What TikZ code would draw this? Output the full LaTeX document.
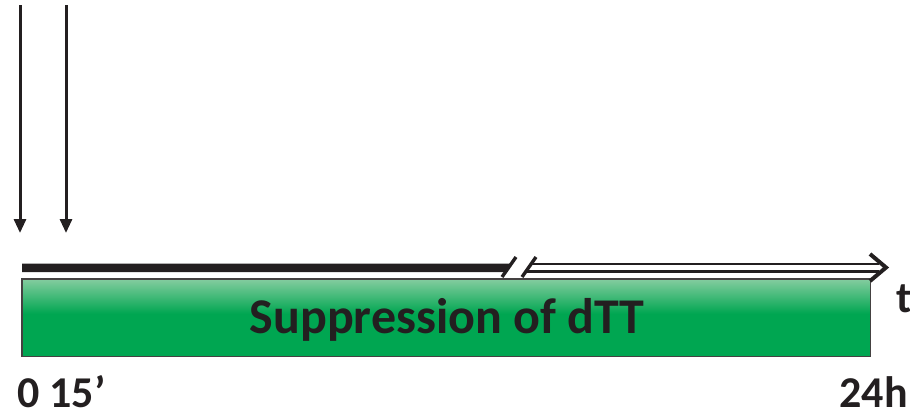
\documentclass[tikz,border=0pt]{standalone}
\usepackage{fontspec}
\setmainfont{Carlito}
\usetikzlibrary{arrows.meta}
\definecolor{ink}{HTML}{231F20}
\definecolor{barGreen}{HTML}{00A651}
\definecolor{barLight}{HTML}{82CC9E}
\tikzset{
  pulse/.style={draw=ink, line width=3bp, -{Triangle[width=12bp,length=14bp]}},
  slash/.style={draw=ink, line width=3.4bp},
  rail/.style={draw=ink, line width=2.6bp},
  label/.style={font=\fontsize{44bp}{52bp}\selectfont\bfseries, text=ink, inner sep=0pt},
  title/.style={font=\fontsize{50bp}{58bp}\selectfont\bfseries, text=ink, inner sep=0pt},
}
\begin{document}
\begin{tikzpicture}[x=1bp, y=-1bp]
  \useasboundingbox (0,0) rectangle (910,415);

  % stimulus pulses at 0 and 15'
  \coordinate (p1top) at (20,5);
  \coordinate (p1end) at (20,233);
  \coordinate (p2top) at (66,5);
  \coordinate (p2end) at (66,233);
  \draw[pulse] (p1top) -- (p1end);
  \draw[pulse] (p2top) -- (p2end);

  % suppression period bar with gradient top
  \node[draw=none, fill=barGreen, minimum width=848bp, minimum height=77bp,
        inner sep=0pt, anchor=north west] (bar) at (22,279) {};
  \shade[top color=barLight, bottom color=barGreen]
        ([yshift=-0.5bp]bar.north west) rectangle ([yshift=4bp]bar.east);
  \draw[draw=ink!85, line width=1.6bp] (bar.north west) rectangle (bar.south east);
  \node[title, anchor=base] (supp) at (447,333) {Suppression of dTT};

  % time axis: solid part, break, hollow part
  \coordinate (s1a) at (516,257);
  \coordinate (s1b) at (502,277);
  \coordinate (s2a) at (536,257);
  \coordinate (s2b) at (522,277);
  \coordinate (axstart) at (22,263.5);
  \fill[ink] (axstart) -- (511.4,263.5) -- (505.5,272) -- (22,272) -- cycle;
  \draw[slash] (s1a) -- (s1b);
  \draw[slash] (s2a) -- (s2b);

  \coordinate (tip) at (886,267.5);
  \draw[rail] (531.4,263.8) -- (879,263.8);
  \draw[rail] (525.5,271.4) -- (879,271.4);
  \draw[draw=ink, line width=4bp, miter limit=10, line join=miter]
       (870,254) -- (tip) -- (870,281);

  % labels
  \node[label, anchor=base west] (tlab) at (896,312) {t};
  \node[label, anchor=base west] (start) at (17,407) {0 15’};
  \node[label, anchor=base east] (end) at (908,407) {24h};
\end{tikzpicture}
\end{document}
